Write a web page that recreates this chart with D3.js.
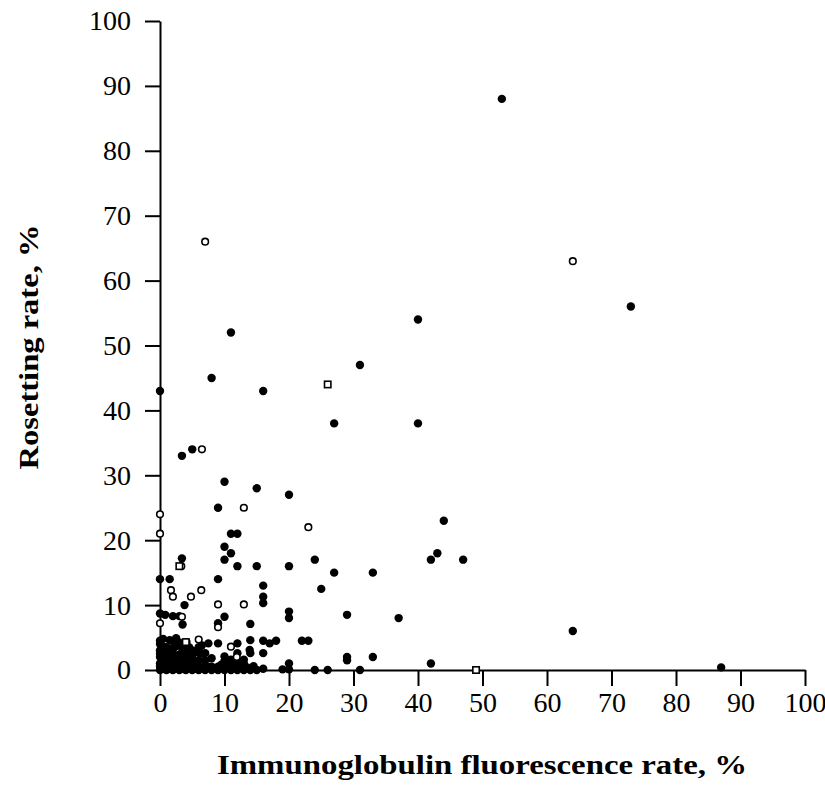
<!DOCTYPE html>
<html>
<head>
<meta charset="utf-8">
<script src="https://cdn.jsdelivr.net/npm/d3@7"></script>
<style>
  body { margin: 0; background: #fff; }
  .axis path, .axis line { stroke: #000; stroke-width: 2px; }
  .axis text { font-family: "Times New Roman", "Liberation Serif", Times, serif; font-size: 28px; fill: #000; }
  .title { font-family: "Times New Roman", "Liberation Serif", Times, serif; font-size: 27px; font-weight: bold; fill: #000; }
</style>
</head>
<body>
<div id="chart"></div>
<script>
// tick values for both axes
const xTicks = [0, 10, 20, 30, 40, 50, 60, 70, 80, 90, 100];
const yTicks = [0, 10, 20, 30, 40, 50, 60, 70, 80, 90, 100];

// filled circles [fluorescence %, rosetting %]
const filledX = [53, 73, 40, 11, 31, 8, 0, 16, 27, 40, 5, 3.4, 10, 15, 20, 9, 44, 11, 12, 10, 11, 43, 3.4, 10, 24, 42, 47, 12, 15, 20, 27, 33,
  0, 1.5, 9, 16, 25, 16, 16, 3.8, 20, 29, 0, 0.8, 2, 3, 10, 20, 37, 9, 14, 3.5, 64, 87, 42, 33, 29, 29, 20, 22, 23, 16, 17, 18,
  16, 14, 14, 12, 12, 9, 7.5, 7, 6.4, 19, 20, 24, 26, 31,
  0, 0, 0, 0, 0, 0, 1, 1, 1, 1, 1.5, 2, 2, 2, 2.2, 2.5, 3, 3, 3, 3.5, 4, 4, 4.1, 4.5, 5, 5, 5.5, 6, 6, 6.5, 7, 7.5, 8, 8.5, 9, 9,
  10, 10.5, 11, 11.5, 12, 12.5, 13, 13.5, 14, 15, 16, 5, 6, 1, 0.5, 13.9,
  0, 0.5, 1, 1.5, 2, 2.5, 3, 3.5, 4, 4.5, 5, 5.5, 6, 0.5, 1.5, 2.5, 3.5, 4.5, 5.5, 0, 1, 2, 3, 4, 5, 6, 0.5, 1.5, 2.5, 3.5, 4.5,
  0.5, 1.5, 2.5, 7, 8, 9.5, 10, 11, 12, 13, 14.5, 8, 10, 7, 11, 6.5, 1.5, 3, 13];
const filledY = [88, 56, 54, 52, 47, 45, 43, 43, 38, 38, 34, 33, 29, 28, 27, 25, 23, 21, 21, 19, 18, 18, 17.2, 17, 17, 17, 17, 16, 16, 16, 15, 15,
  14, 14, 14, 13, 12.5, 11.3, 10.3, 10, 9, 8.5, 8.7, 8.5, 8.3, 8.3, 8.2, 8, 8, 7.2, 7.1, 7, 6, 0.4, 1, 2, 2, 1.5, 1, 4.5, 4.5, 4.5, 4.1, 4.5,
  2.6, 4.6, 2.6, 4.1, 2.6, 4.1, 4.1, 2.6, 2.6, 0.1, 0.1, 0, 0, 0,
  0, 1, 2, 3, 4, 4.5, 0, 1, 2, 3.5, 0.5, 0, 1.5, 2.5, 4.2, 0.8, 0, 4.2, 1, 2, 0, 1, 4.3, 2.5, 0, 1.5, 0.5, 0, 1.5, 0.3, 0, 0.5, 0, 0.3, 0.5, 0,
  0, 0.5, 0, 0.3, 0, 0.3, 0, 0.4, 0, 0, 0.2, 3, 3.5, 2.8, 0.5, 3.1,
  0.5, 0.2, 0.6, 0.2, 0.7, 0.3, 0.6, 0.2, 0.6, 0.3, 0.7, 0.2, 0.6, 1.5, 1.2, 1.4, 1.3, 1.6, 1.2, 2.5, 2.6, 3.2, 2.4, 2.8, 2.2, 2.7, 3.6, 3.3, 3.7, 3.2, 3.5,
  4.8, 4.6, 4.9, 0.6, 0.5, 0.8, 1.4, 0.9, 1.2, 1, 0.6, 1.8, 2.1, 1.5, 1.6, 3.8, 2.1, 1.9, 1.6];

// open circles
const openX = [7, 64, 6.5, 13, 0, 23, 0, 3.3, 1.7, 2, 4.8, 6.4, 9, 13, 3.4, 0, 9, 6, 11, 11.9];
const openY = [66, 63, 34, 25, 24, 22, 21, 16, 12.3, 11.3, 11.3, 12.3, 10.1, 10.1, 8.2, 7.2, 6.6, 4.7, 3.6, 2];

// open squares
const squareX = [3, 26, 49, 4];
const squareY = [16, 44, 0, 4.3];

const width = 825, height = 791;
const margin = { top: 21, right: 20, bottom: 121, left: 160 };

const svg = d3.select("#chart").append("svg")
  .attr("width", width)
  .attr("height", height);

const x = d3.scaleLinear().domain([0, 100]).range([margin.left, width - margin.right]);
const y = d3.scaleLinear().domain([0, 100]).range([height - margin.bottom, margin.top]);

svg.append("g")
  .attr("class", "axis")
  .attr("transform", `translate(0,${height - margin.bottom})`)
  .call(d3.axisBottom(x).tickValues(xTicks).tickSize(16).tickSizeOuter(0).tickPadding(6));

svg.append("g")
  .attr("class", "axis")
  .attr("transform", `translate(${margin.left},0)`)
  .call(d3.axisLeft(y).tickValues(yTicks).tickSize(15).tickSizeOuter(0).tickPadding(14));

const pts = svg.append("g");

pts.selectAll(".filled")
  .data(d3.zip(filledX, filledY))
  .join("circle")
  .attr("class", "filled")
  .attr("cx", d => x(d[0]))
  .attr("cy", d => y(d[1]))
  .attr("r", 4.2)
  .attr("fill", "#000");

pts.selectAll(".open")
  .data(d3.zip(openX, openY))
  .join("circle")
  .attr("class", "open")
  .attr("cx", d => x(d[0]))
  .attr("cy", d => y(d[1]))
  .attr("r", 3.3)
  .attr("fill", "#fff")
  .attr("stroke", "#000")
  .attr("stroke-width", 1.6);

pts.selectAll(".sq")
  .data(d3.zip(squareX, squareY))
  .join("rect")
  .attr("class", "sq")
  .attr("x", d => x(d[0]) - 3.2)
  .attr("y", d => y(d[1]) - 3.2)
  .attr("width", 6.4)
  .attr("height", 6.4)
  .attr("fill", "#fff")
  .attr("stroke", "#000")
  .attr("stroke-width", 1.6);

svg.append("text")
  .attr("class", "title")
  .attr("x", 482)
  .attr("y", 774)
  .attr("text-anchor", "middle")
  .attr("textLength", 530)
  .attr("lengthAdjust", "spacingAndGlyphs")
  .text("Immunoglobulin fluorescence rate, %");

svg.append("text")
  .attr("class", "title")
  .attr("transform", "translate(38,347) rotate(-90)")
  .attr("text-anchor", "middle")
  .attr("textLength", 245)
  .attr("lengthAdjust", "spacingAndGlyphs")
  .text("Rosetting rate, %");
</script>
</body>
</html>
